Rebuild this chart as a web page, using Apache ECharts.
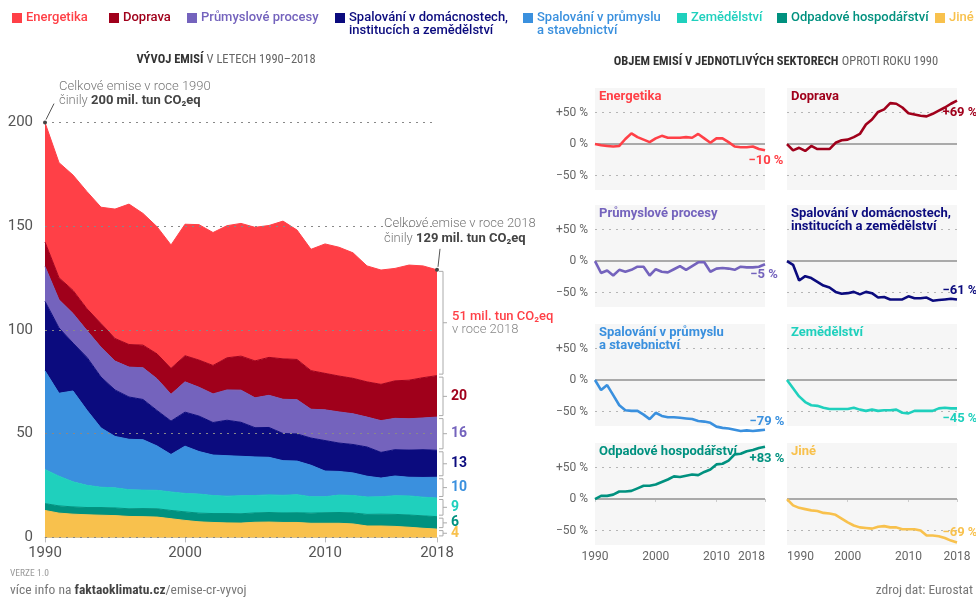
<!DOCTYPE html>
<html>
<head>
<meta charset="utf-8">
<script src="https://cdn.jsdelivr.net/npm/echarts@6/dist/echarts.min.js"></script>
<style>
html, body { margin: 0; padding: 0; background: #fff; }
#chart { width: 976px; height: 599px; }
</style>
</head>
<body>
<div id="chart"></div>
<script>
// roky
const years = ['1990','1991','1992','1993','1994','1995','1996','1997','1998','1999',
  '2000','2001','2002','2003','2004','2005','2006','2007','2008','2009',
  '2010','2011','2012','2013','2014','2015','2016','2017','2018'];

// emise v mil. tun CO2eq
const energetika = [57.6, 55.5, 55.6, 56.5, 56.1, 62.4, 67.7, 63.5, 61.3, 59.5, 63.4, 65.3, 64.1, 63.7, 64.0, 64.4, 63.6, 66.4, 62.4, 58.5, 62.4, 62.1, 60.5, 55.9, 55.1, 54.2, 55.5, 53.9, 51.0];
const doprava = [11.8, 10.6, 11.1, 10.5, 11.4, 10.9, 10.9, 10.9, 12.0, 12.5, 12.6, 13.1, 13.7, 15.5, 16.4, 17.8, 18.3, 19.5, 19.4, 18.6, 17.6, 17.3, 17.1, 17.0, 17.5, 18.1, 18.6, 19.4, 20.0];
const procesy = [16.8, 13.6, 14.3, 12.9, 14.4, 13.9, 14.4, 15.3, 15.3, 12.9, 14.6, 13.9, 13.8, 14.6, 15.5, 14.4, 15.5, 16.5, 16.5, 13.9, 14.8, 15.0, 14.8, 14.4, 15.3, 15.1, 15.1, 15.3, 16.0];
const domacnosti = [33.5, 31.5, 23.1, 25.5, 24.5, 22.4, 20.4, 19.4, 17.1, 16.1, 16.4, 17.1, 15.7, 17.1, 16.4, 14.1, 14.4, 13.1, 13.1, 13.1, 14.7, 13.7, 13.7, 14.1, 12.4, 12.7, 13.1, 13.4, 13.0];
const prumysl = [47.6, 40.0, 43.8, 36.2, 28.6, 24.8, 24.3, 24.3, 21.4, 18.1, 22.8, 20.5, 19.5, 19.5, 19.0, 18.6, 18.1, 16.7, 16.2, 15.2, 12.4, 11.4, 10.9, 10.0, 9.0, 9.5, 9.0, 9.5, 10.0];
const zemedelstvi = [16.4, 14.3, 12.1, 10.7, 9.8, 9.7, 9.2, 8.9, 8.9, 8.9, 8.9, 9.2, 8.7, 8.4, 8.7, 8.4, 8.5, 8.5, 8.7, 7.9, 7.7, 8.4, 8.4, 8.4, 8.4, 9.0, 9.2, 9.0, 9.0];
const odpad = [3.3, 3.5, 3.5, 3.5, 3.7, 3.7, 3.7, 3.9, 4.0, 4.0, 4.1, 4.2, 4.3, 4.5, 4.5, 4.5, 4.6, 4.6, 4.7, 4.9, 5.1, 5.2, 5.3, 5.6, 5.7, 5.8, 5.9, 6.0, 6.0];
const jine = [13.0, 11.7, 11.2, 10.9, 10.7, 10.5, 10.1, 10.0, 9.8, 9.0, 8.2, 7.5, 7.2, 7.0, 6.9, 7.3, 7.4, 7.2, 7.2, 6.8, 6.8, 6.8, 6.5, 5.5, 5.5, 5.3, 4.9, 4.4, 4.0];

// změna oproti roku 1990 v %
const pctEnergetika = [0, -2, -3, -4, -3, 8, 17, 11, 7, 3, 9, 13, 10, 10, 10, 11, 10, 16, 9, 2, 9, 9, 3, -4, -5, -5, -4, -8, -10];
const pctDoprava = [0, -10, -6, -11, -3, -8, -8, -8, 2, 6, 7, 11, 16, 31, 39, 51, 55, 65, 64, 58, 49, 47, 45, 44, 48, 53, 58, 64, 69];
const pctProcesy = [0, -19, -15, -23, -14, -17, -14, -9, -9, -23, -13, -17, -18, -13, -8, -14, -8, -2, -2, -17, -12, -11, -12, -14, -9, -10, -10, -9, -5];
const pctDomacnosti = [0, -6, -31, -24, -27, -33, -39, -42, -49, -52, -51, -49, -53, -49, -51, -58, -57, -61, -61, -61, -56, -59, -59, -58, -63, -62, -61, -60, -61];
const pctPrumysl = [0, -16, -8, -24, -40, -48, -49, -49, -55, -62, -52, -57, -59, -59, -60, -61, -62, -65, -66, -68, -74, -76, -77, -79, -81, -80, -81, -80, -79];
const pctZemedelstvi = [0, -13, -26, -35, -40, -41, -44, -46, -46, -46, -46, -44, -47, -49, -47, -49, -48, -48, -47, -52, -53, -49, -49, -49, -49, -45, -44, -45, -45];
const pctOdpad = [0, 5, 5, 7, 12, 12, 13, 17, 21, 21, 23, 27, 31, 36, 35, 37, 39, 38, 43, 47, 55, 56, 61, 71, 72, 76, 78, 81, 83];
const pctJine = [0, -10, -14, -16, -18, -19, -22, -23, -25, -31, -37, -42, -45, -46, -47, -44, -43, -45, -45, -48, -48, -48, -50, -58, -58, -59, -62, -66, -69];

const pctTicks = [-50, 0, 50];
const yearLabels = ['1990', '2000', '2010', '2018'];

const SANS = 'Roboto, "Noto Sans", sans-serif';
const COND = '"Roboto Condensed", "DejaVu Sans Condensed", "Liberation Sans Narrow", sans-serif';

const sectors = [
  { name: 'Energetika', color: '#ff4047', values: energetika, pct: pctEnergetika },
  { name: 'Doprava', color: '#a0001b', values: doprava, pct: pctDoprava },
  { name: 'Průmyslové procesy', color: '#7463bd', values: procesy, pct: pctProcesy },
  { name: 'Spalování v domácnostech,\ninstitucích a zemědělství', color: '#0b0b7e', values: domacnosti, pct: pctDomacnosti },
  { name: 'Spalování v průmyslu\na stavebnictví', color: '#3a90de', values: prumysl, pct: pctPrumysl },
  { name: 'Zemědělství', color: '#1fd0bd', values: zemedelstvi, pct: pctZemedelstvi },
  { name: 'Odpadové hospodářství', color: '#00917f', values: odpad, pct: pctOdpad },
  { name: 'Jiné', color: '#f8c14d', values: jine, pct: pctJine }
];

// rozložení
const legendX = [12, 109, 187, 335, 523, 677, 777, 935];
const panelLeft = [595, 787];
const panelTop = [88, 205, 324, 443];
const panelW = 170, panelH = 102;
const endLabelOffset = [[1, 10], [3, 12], [-1, 11], [3, -9], [2, -8], [3, 10], [2, 12], [3, -10]];

const showYear = (i) => yearLabels.indexOf(years[i]) >= 0;

const grids = [{ left: 45, top: 122.6, width: 392, height: 414.8 }];
const xAxes = [{
  type: 'category', gridIndex: 0, data: years, boundaryGap: false,
  axisLine: { lineStyle: { color: '#c8c8c8' } },
  axisTick: { interval: showYear, length: 5, lineStyle: { color: '#bbb' } },
  axisLabel: { interval: showYear, fontSize: 15, color: '#555', fontFamily: SANS, margin: 8 }
}];
const yAxes = [{
  type: 'value', gridIndex: 0, min: 0, max: 200, interval: 50, z: 10,
  axisLine: { show: false }, axisTick: { show: false },
  axisLabel: { fontSize: 15, color: '#555', fontFamily: SANS, margin: 12 },
  splitLine: { lineStyle: { color: '#888', width: 1, type: [2, 5] } }
}];
const series = [];

sectors.slice().reverse().forEach(s => {
  series.push({
    name: s.name, type: 'line', xAxisIndex: 0, yAxisIndex: 0, stack: 'celkem',
    data: s.values, symbol: 'none', smooth: false,
    lineStyle: { width: 1, color: s.color },
    areaStyle: { color: s.color, opacity: 1 },
    itemStyle: { color: s.color }
  });
});

sectors.forEach((s, i) => {
  const row = Math.floor(i / 2), col = i % 2;
  const g = i + 1;
  grids.push({
    left: panelLeft[col], top: panelTop[row], width: panelW, height: panelH,
    show: true, backgroundColor: '#f6f6f6', borderWidth: 0
  });
  xAxes.push({
    type: 'category', gridIndex: g, data: years, boundaryGap: false,
    axisLine: { show: false },
    axisTick: { show: row === 3, interval: showYear, length: 3, lineStyle: { color: '#ccc' } },
    axisLabel: {
      show: row === 3, interval: showYear, fontSize: 12, color: '#666', fontFamily: SANS, margin: 6,
      alignMinLabel: col === 1 ? 'left' : 'center', alignMaxLabel: col === 0 ? 'right' : 'center'
    }
  });
  yAxes.push({
    type: 'value', gridIndex: g, min: -73, max: 89,
    axisLine: { show: false }, axisTick: { show: false }, splitLine: { show: false },
    axisLabel: {
      show: col === 0, customValues: pctTicks, fontSize: 12, color: '#666', fontFamily: SANS, margin: 7,
      formatter: v => v > 0 ? '+' + v + ' %' : (v < 0 ? '−' + Math.abs(v) + ' %' : '0 %')
    }
  });
  series.push({
    name: s.name + ' %', type: 'line', xAxisIndex: g, yAxisIndex: g, z: 6, clip: false,
    data: s.pct, symbol: 'none', smooth: false,
    lineStyle: { width: 2.6, color: s.color }, itemStyle: { color: s.color },
    markLine: {
      silent: true, symbol: 'none', z: 1, animation: false, label: { show: false },
      data: [
        { yAxis: 50, lineStyle: { color: '#b5b5b5', width: 1, type: [2, 5] } },
        { yAxis: -50, lineStyle: { color: '#b5b5b5', width: 1, type: [2, 5] } },
        { yAxis: 0, lineStyle: { color: '#aaa', width: 2, type: 'solid' } }
      ]
    }
  });
});

const chart = echarts.init(document.getElementById('chart'));
chart.setOption({
  animation: false,
  backgroundColor: '#fff',
  grid: grids, xAxis: xAxes, yAxis: yAxes, series: series
});

function txt(x, y, text, o) {
  o = o || {};
  const align = o.align || 'left', va = o.va || 'middle';
  return {
    type: 'text', x: x, y: y, silent: true, z: 100,
    style: {
      text: text, fill: o.color || '#555', fontSize: o.size || 13,
      fontWeight: o.weight || 'normal', fontFamily: o.family || SANS,
      align: align, textAlign: align, verticalAlign: va, textVerticalAlign: va,
      lineHeight: o.lh, rich: o.rich
    }
  };
}
function ln(x1, y1, x2, y2, color, w) {
  return { type: 'line', silent: true, z: 100, shape: { x1: x1, y1: y1, x2: x2, y2: y2 },
    style: { stroke: color, lineWidth: w || 1 } };
}

const gr = [];
// legenda
sectors.forEach((s, i) => {
  gr.push({ type: 'rect', silent: true, shape: { x: legendX[i], y: 13, width: 10, height: 10 }, style: { fill: s.color } });
  gr.push(txt(legendX[i] + 14, 11, s.name, { color: s.color, size: 13, weight: 500, va: 'top', lh: 13 }));
});

// nadpisy
const titleRich = {
  b: { fontFamily: COND, fontWeight: 'bold', fontSize: 12.5, fill: '#333' },
  n: { fontFamily: COND, fontWeight: 'normal', fontSize: 12.5, fill: '#666' }
};
gr.push(txt(226, 60, '{b|VÝVOJ EMISÍ} {n|V LETECH 1990–2018}', { align: 'center', rich: titleRich }));
gr.push(txt(776, 62, '{b|OBJEM EMISÍ V JEDNOTLIVÝCH SEKTORECH} {n|OPROTI ROKU 1990}', { align: 'center', rich: titleRich }));

// anotace 1990 a 2018
const total1990 = sectors.reduce((a, s) => a + s.values[0], 0);
const total2018 = sectors.reduce((a, s) => a + s.values[28], 0);
const p0 = chart.convertToPixel({ gridIndex: 0 }, [0, total1990]);
const p1 = chart.convertToPixel({ gridIndex: 0 }, [28, total2018]);
const annoRich = {
  b: { fontFamily: SANS, fontWeight: 'bold', fontSize: 13, fill: '#444' },
  n: { fontFamily: SANS, fontWeight: 300, fontSize: 13, fill: '#777' }
};
gr.push({ type: 'circle', silent: true, z: 101, shape: { cx: p0[0], cy: p0[1], r: 2 }, style: { fill: '#444' } });
gr.push(ln(p0[0] + 1, p0[1] - 3, p0[0] + 9, p0[1] - 19, '#555', 1));
gr.push(txt(59, p0[1] - 36, '{n|Celkové emise v roce 1990}', { rich: annoRich }));
gr.push(txt(59, p0[1] - 22, '{n|činily }{b|' + Math.round(total1990) + ' mil. tun CO₂eq}', { rich: annoRich }));
gr.push({ type: 'circle', silent: true, z: 101, shape: { cx: p1[0], cy: p1[1], r: 2 }, style: { fill: '#444' } });
gr.push(ln(p1[0] + 1, p1[1] - 3, p1[0] + 3, p1[1] - 21, '#555', 1));
gr.push(txt(384, p1[1] - 46, '{n|Celkové emise v roce 2018}', { rich: annoRich }));
gr.push(txt(384, p1[1] - 31, '{n|činily }{b|' + Math.round(total2018) + ' mil. tun CO₂eq}', { rich: annoRich }));

// závorky s hodnotami 2018
const bx = p1[0] + 6;
let cum = 0;
sectors.slice().reverse().forEach((s, k) => {
  const v = s.values[28];
  const yLo = chart.convertToPixel({ gridIndex: 0 }, [28, cum])[1];
  const yHi = chart.convertToPixel({ gridIndex: 0 }, [28, cum + v])[1];
  cum += v;
  const a = yHi + 1.5, b = yLo - 1.5, m = (yHi + yLo) / 2;
  gr.push(ln(bx, a, bx, b, '#aaa', 1));
  gr.push(ln(bx - 4, a, bx, a, '#aaa', 1));
  gr.push(ln(bx - 4, b, bx, b, '#aaa', 1));
  gr.push(ln(bx, m, bx + 4, m, '#aaa', 1));
  if (k === sectors.length - 1) {
    gr.push(txt(bx + 9, m - 6, Math.round(v) + ' mil. tun CO₂eq', { color: s.color, size: 13, weight: 500 }));
    gr.push(txt(bx + 9, m + 7, 'v roce 2018', { color: '#888', size: 13, weight: 300 }));
  } else {
    gr.push(txt(bx + 8, m, String(Math.round(v)), { color: s.color, size: 14, weight: 'bold' }));
  }
});

// malé grafy: názvy a koncové hodnoty
sectors.forEach((s, i) => {
  const row = Math.floor(i / 2), col = i % 2;
  gr.push(txt(panelLeft[col] + 4, panelTop[row] + 2, s.name, { color: s.color, size: 13, weight: 'bold', va: 'top', lh: 13 }));
  const last = s.pct[s.pct.length - 1];
  const p = chart.convertToPixel({ gridIndex: i + 1 }, [28, last]);
  const t = (last > 0 ? '+' : '−') + Math.abs(last) + ' %';
  gr.push(txt(p[0] + endLabelOffset[i][0], p[1] + endLabelOffset[i][1], t, { color: s.color, size: 13, weight: 'bold', align: 'center' }));
});

// patička
gr.push(txt(10, 574, 'VERZE 1.0', { color: '#999', size: 9.5, family: COND }));
gr.push(txt(10, 591, '{n|více info na }{b|faktaoklimatu.cz}{n|/emise-cr-vyvoj}', { rich: {
  n: { fontFamily: COND, fontSize: 13.5, fill: '#777' },
  b: { fontFamily: COND, fontSize: 13.5, fontWeight: 'bold', fill: '#444' } } }));
gr.push(txt(973, 591, 'zdroj dat: Eurostat', { color: '#777', size: 13.5, family: COND, align: 'right' }));

chart.setOption({ graphic: gr });
</script>
</body>
</html>
